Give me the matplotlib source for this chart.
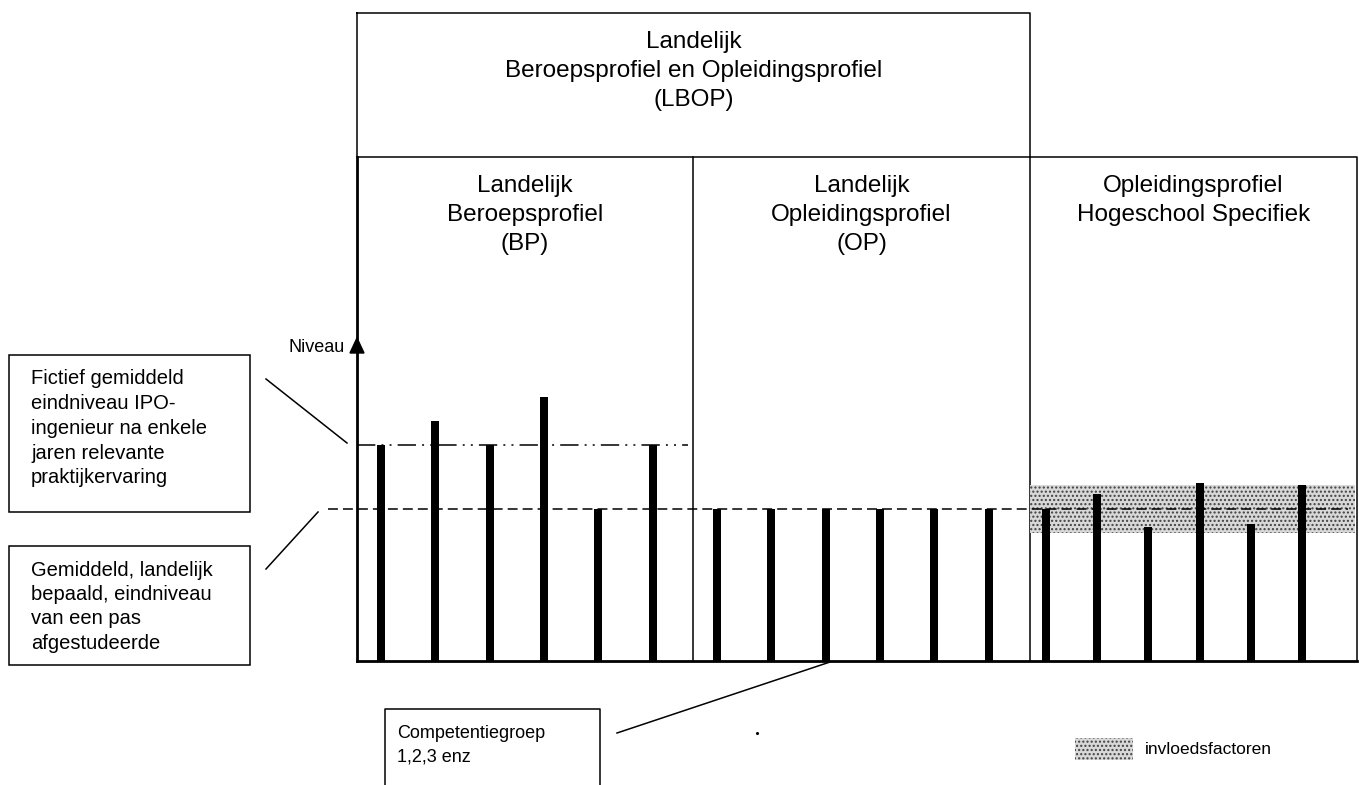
import numpy as np
import matplotlib.pyplot as plt
from matplotlib.patches import Rectangle

plt.rcParams['font.family'] = ['Liberation Sans', 'DejaVu Sans']

# niveau per competentiegroep (6 groepen per kolom)
niveau_bp = [7.1, 7.9, 7.1, 8.7, 5.0, 7.1]
niveau_op = [5.0, 5.0, 5.0, 5.0, 5.0, 5.0]
niveau_hs = [5.0, 5.5, 4.4, 5.85, 4.5, 5.8]
niveau_ipo = 7.1         # fictief eindniveau na praktijkervaring
niveau_gemiddeld = 5.0   # landelijk eindniveau pas afgestudeerde
invloed_band = [4.2, 5.8]

top_titel = ['Landelijk', 'Beroepsprofiel en Opleidingsprofiel', '(LBOP)']
kolom_titels = [['Landelijk', 'Beroepsprofiel', '(BP)'],
                ['Landelijk', 'Opleidingsprofiel', '(OP)'],
                ['Opleidingsprofiel', 'Hogeschool Specifiek']]
tekst_ipo = ['Fictief gemiddeld', 'eindniveau IPO-', 'ingenieur na enkele',
             'jaren relevante', 'praktijkervaring']
tekst_gem = ['Gemiddeld, landelijk', 'bepaald, eindniveau', 'van een pas', 'afgestudeerde']
tekst_comp = ['Competentiegroep', '1,2,3 enz']

W, H = 1359, 785
fig = plt.figure(figsize=(W / 100, H / 100), dpi=100)
ax = fig.add_axes([0, 0, 1, 1])
ax.set_xlim(0, W)
ax.set_ylim(H, 0)
ax.axis('off')

lw_box = 1.1
# kolommen (pixels)
x0, x1, x2, x3 = 357, 693, 1030, 1357
y_top, y_mid, y_base = 13, 157, 661

# bovenste blok
ax.plot([x0, x2, x2, x0, x0], [y_top, y_top, y_mid, y_mid, y_top], color='black', lw=lw_box)
ax.plot([x2, x3, x3], [y_mid, y_mid, y_base], color='black', lw=lw_box)
ax.plot([x1, x1], [y_mid, y_base], color='black', lw=lw_box)
ax.plot([x2, x2], [y_mid, y_base], color='black', lw=lw_box)
# niveau-as en basislijn
ax.plot([x0, x0], [y_mid, y_base], color='black', lw=2.0)
ax.plot([x0, x3], [y_base, y_base], color='black', lw=2.0)
ax.fill([x0 - 7, x0 + 7, x0], [353, 353, 338], color='black')
ax.text(345, 347, 'Niveau', ha='right', va='center', fontsize=13)

for i, t in enumerate(top_titel):
    ax.text((x0 + x2) / 2, 42 + 29 * i, t, ha='center', va='center', fontsize=17.5)
for (a, b), titel in zip([(x0, x1), (x1, x2), (x2, x3)], kolom_titels):
    for i, t in enumerate(titel):
        ax.text((a + b) / 2, 186 + 29 * i, t, ha='center', va='center', fontsize=17.5)

# tekstvakken links
ax.add_patch(Rectangle((9, 355), 241, 157, fill=False, lw=lw_box))
for i, t in enumerate(tekst_ipo):
    ax.text(31, 379 + 24.7 * i, t, va='center', fontsize=14.5)
ax.add_patch(Rectangle((9, 546), 241, 119, fill=False, lw=lw_box))
for i, t in enumerate(tekst_gem):
    ax.text(31, 570 + 24.5 * i, t, va='center', fontsize=14.5)
ax.plot([266, 347], [379, 443], color='black', lw=lw_box)
ax.plot([266, 318], [569, 512], color='black', lw=lw_box)

# competentiegroep
ax.plot([385, 385, 600, 600], [H + 5, 709, 709, H + 5], color='black', lw=lw_box)
for i, t in enumerate(tekst_comp):
    ax.text(397, 733 + 24 * i, t, va='center', fontsize=13)
ax.plot([617, 830], [733, 662], color='black', lw=lw_box)
ax.plot([757], [733], marker='o', ms=1.2, color='black')

# legenda
ax.add_patch(Rectangle((1075, 738), 58, 22, facecolor='#d8d8d8', edgecolor='#404040',
                       hatch='....', lw=0))
ax.text(1145, 749, 'invloedsfactoren', va='center', fontsize=12.5)

# staafjes in een eigen as
unit = 30.4
axb = fig.add_axes([x0 / W, (H - y_base) / H, (x3 - x0) / W, (y_base - y_mid) / H])
axb.set_xlim(x0, x3)
axb.set_ylim(0, (y_base - y_mid) / unit)
axb.axis('off')
axb.patch.set_alpha(0)

idx = np.arange(6)
axb.bar(381 + 54.3 * idx, niveau_bp, width=8, color='black', zorder=3)
axb.bar(717 + 54.3 * idx, niveau_op, width=8, color='black', zorder=3)
axb.bar(1046 + 51.2 * idx, niveau_hs, width=8, color='black', zorder=3)

axb.fill_between([x2, x3 - 2], invloed_band[0], invloed_band[1], facecolor='#d8d8d8',
                 edgecolor='#404040', hatch='....', lw=0, zorder=1)
axb.plot([328, 1348], [niveau_gemiddeld] * 2, color='black', lw=lw_box,
         ls=(0, (6.5, 3.3)), clip_on=False, zorder=4)
axb.plot([x0, 688], [niveau_ipo] * 2, color='black', lw=lw_box,
         ls=(0, (12, 4, 1.3, 4, 1.3, 4)), clip_on=False, zorder=4)

fig.savefig('out.png', dpi=100)
